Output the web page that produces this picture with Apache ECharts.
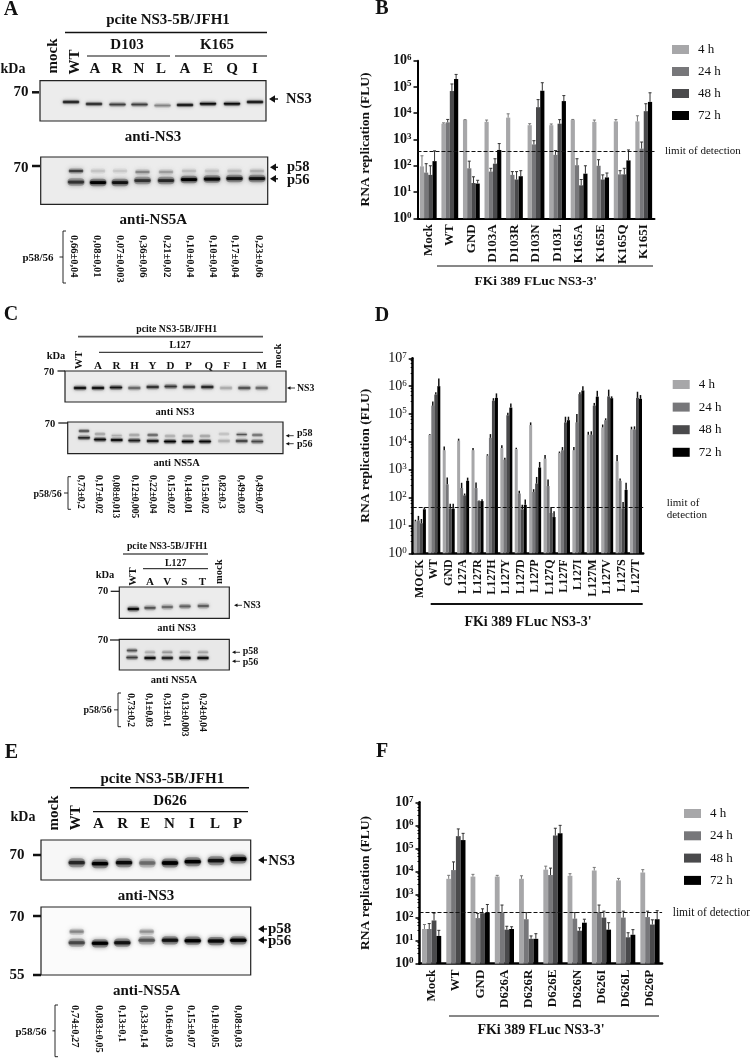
<!DOCTYPE html>
<html><head><meta charset="utf-8">
<style>html,body{margin:0;padding:0;background:#fff}#c{width:750px;height:1058px}</style>
<script src="https://cdn.jsdelivr.net/npm/echarts@6/dist/echarts.min.js"></script>
</head><body><div id="c"></div>
<script>
// ---------- chart data ----------
const timeNames = ['4 h','24 h','48 h','72 h'];
const catsB = ['Mock','WT','GND','D103A','D103R','D103N','D103L','K165A','K165E','K165Q','K165I'];
const b4  = [95,4000,5500,4700,6800,3500,3500,5500,4700,4900,4900];
const b24 = [55,4500,80,60,45,650,260,105,100,47,450];
const b48 = [45,70000,22,120,30,17000,4000,18,30,47,12000];
const b72 = [150,200000,21,400,40,72000,29000,50,36,160,27000];
const bE4  = [240,4300,5700,5500,9500,4000,3900,5800,5500,5700,8000];
const bE24 = [120,5800,150,80,60,900,380,185,170,65,800];
const bE48 = [100,130000,38,185,60,33000,5700,30,45,80,23000];
const bE72 = [370,300000,28,700,65,145000,47000,100,53,400,60000];
const limitB = 370;

const catsD = ['MOCK','WT','GND','L127A','L127R','L127H','L127Y','L127D','L127P','L127Q','L127F','L127I','L127M','L127V','L127S','L127T'];
const d4  = [14,18000,5000,11000,5000,3200,6000,5500,40000,2500,4000,5000,18000,33000,2000,28000];
const d24 = [15,200000,300,220,220,14000,2300,140,160,260,5000,50000,18000,60000,400,28000];
const d48 = [12,500000,40,120,75,300000,90000,38,320,28,50000,520000,200000,430000,40,380000];
const d72 = [38,1000000,40,400,75,380000,170000,55,1200,20,60000,700000,420000,370000,190,350000];
const dE4  = [16,19000,6800,13000,6000,3600,7500,6100,50000,3400,4500,6500,23000,42000,3400,35000];
const dE24 = [22,280000,530,340,350,19000,2700,175,200,450,6500,100000,24000,70000,480,36000];
const dE48 = [17,600000,60,140,78,370000,110000,55,550,45,80000,600000,250000,750000,70,630000];
const dE72 = [45,1900000,60,520,88,550000,240000,85,1900,32,80000,1000000,680000,430000,340,480000];
const limitD = 45;

const catsF = ['Mock','WT','GND','D626A','D626R','D626E','D626N','D626I','D626L','D626P'];
const f4  = [32,4800,6000,6000,4800,12000,6500,11000,4100,9000];
const f24 = [32,11500,95,165,85,7000,90,170,100,105];
const f48 = [75,340000,155,30,12,360000,27,100,14,50];
const f72 = [16,230000,160,32,12,450000,60,30,18,85];
const fE4  = [50,6800,7500,6800,6500,17000,8000,15000,5000,12000];
const fE24 = [55,26000,150,350,165,14000,165,350,190,190];
const fE48 = [155,700000,240,42,16,750000,36,190,22,80];
const fE72 = [28,450000,370,40,20,1000000,85,60,30,200];
const limitF = 165;

// ---------- blot labels and band intensities ----------
const lanesA = ['A','R','N','L','A','E','Q','I'];
const ratioA = ['0,66±0,04','0,08±0,01','0,07±0,003','0,36±0,06','0,21±0,02','0,10±0,04','0,10±0,04','0,17±0,04','0,23±0,06'];
const aNS3 = [.85,.8,.7,.7,.4,.9,.95,.95,.9];
const aP56 = [.75,1,.9,.75,.8,1,.95,.9,.9];
const aP58 = [.7,.12,.1,.4,.3,.15,.12,.15,.2];

const lanesC = ['A','R','H','Y','D','P','Q','F','I','M'];
const ratioC = ['0,73±0,2','0,17±0,02','0,08±0,013','0,12±0,005','0,22±0,04','0,15±0,02','0,14±0,01','0,15±0,02','0,82±0,3','0,49±0,03','0,49±0,07'];
const cNS3 = [.95,.95,.9,.55,.8,.75,.75,.85,.25,.65,.55];
const cP56 = [.8,.95,.95,.85,.9,1,1,.95,.2,.7,.65];
const cP58 = [.7,.3,.2,.3,.6,.25,.3,.3,.15,.6,.55];

const lanesC2 = ['A','V','S','T'];
const ratioC2 = ['0,73±0,2','0,1±0,03','0,31±0,1','0,13±0,003','0,24±0,04'];
const c2NS3 = [.95,.6,.5,.55,.55];
const c2P56 = [.7,.95,.85,.95,.95];
const c2P58 = [.6,.2,.3,.2,.25];

const lanesE = ['A','R','E','N','I','L','P'];
const ratioE = ['0,74±0,27','0,083±0,05','0,13±0,1','0,33±0,14','0,16±0,03','0,15±0,07','0,10±0,05','0,08±0,03'];
const eNS3 = [.8,1,.95,.5,1,1,.9,1];
const eP56 = [.65,1,.9,.6,.9,1,.95,1];
const eP58 = [.4,0,0,.35,0,0,0,0];

// ---------- drawing ----------
const FF = '"Liberation Serif"';
const colors = ['#a7a7a9','#77777a','#4a4a4c','#000000'];
const G = [];
function T(s,x,y,size,o){o=o||{};G.push({type:'text',x:x,y:y,rotation:o.rot||0,z:20,silent:true,style:{text:s,fill:o.fill||'#111',
  font:(o.weight||'bold')+' '+size+'px '+FF,align:o.align||'center',verticalAlign:o.va||'middle'}});}
function L(x1,y1,x2,y2,w,c){G.push({type:'line',z:19,silent:true,shape:{x1,y1,x2,y2},style:{stroke:c||'#111',lineWidth:w||1}});}
function box(x,y,w,h,fill,lw){G.push({type:'rect',z:5,silent:true,shape:{x,y,width:w,height:h},style:{fill:fill,stroke:'#222',lineWidth:lw||1.2}});}
function band(cx,cy,w,h,k,blur){if(k<=0)return;
  const halo=Math.round(120+60*(1-k)),core=Math.round(170*(1-k));
  const a='rgb('+halo+','+halo+','+halo+')',b='rgb('+core+','+core+','+core+')';
  const oh=h*1.5,ch=h*.55;
  G.push({type:'rect',z:8,silent:true,shape:{x:cx-w/2+1,y:cy-oh/2,width:w-2,height:oh,r:oh/2},
   style:{fill:a,opacity:Math.min(.8,k*.8+.12),shadowBlur:blur*1.6,shadowColor:a}});
  G.push({type:'rect',z:9,silent:true,shape:{x:cx-w/2+1.5,y:cy-ch/2,width:w-3,height:ch,r:ch/2},
   style:{fill:b,opacity:Math.min(1,k+.05),shadowBlur:blur*.7,shadowColor:b}});}
function bands(xs,ys,vals,w,h,blur){vals.forEach((k,i)=>band(xs[i],ys[i],w,h,k,blur));}
function bigArrow(x,y,len){G.push({type:'polygon',z:19,silent:true,shape:{points:[[x,y],[x+6,y-3.8],[x+6,y+3.8]]},style:{fill:'#111'}});L(x+5,y,x+(len||8),y,1.4);}
function thinArrow(x,y,len){G.push({type:'polygon',z:19,silent:true,shape:{points:[[x,y],[x+3.5,y-1.8],[x+3.5,y+1.8]]},style:{fill:'#111'}});L(x+3,y,x+len,y,.8);}
function bracket(x,y1,y2,tx){L(x,y1,x,y2,.9);L(x,y1,x+3,y1,.9);L(x,y2,x+3,y2,.9);L(tx,(y1+y2)/2,x,(y1+y2)/2,.9);}
function rotLabel(s,x,y,size){T(s,x,y,size,{rot:Math.PI/2});}
function ratios(list,xs,y,size){list.forEach((s,i)=>T(s,xs[i],y,size,{rot:-Math.PI/2,align:'left'}));}

// Panel A
T('A',11,10,20);
T('pcite NS3-5B/JFH1',168,20,15);L(65,32.5,267,32.5,1.5);
T('D103',127,45.5,15);T('K165',217,45.5,15);L(87,56,170,56,1.2);L(175,56,267,56,1.2);
rotLabel('mock',53,56,15);rotLabel('WT',75,62,15);
lanesA.forEach((s,i)=>T(s,[95,117,139,161,185,208,232,255][i],69.5,15));
T('kDa',13,69,14);
box(40,80.7,226,40.3,'#ececec');
bands([71,94,117.5,139.5,162.5,185,208,232,255],[102,104,104.5,104.5,105.5,105,103.8,103.8,102],aNS3,19,2.8,2);
T('70',21,92,15);L(32,92.3,39,92.3,2.5);
bigArrow(269,99,9);T('NS3',286,99,14.5,{align:'left'});
T('anti-NS3',153,136.7,15);
box(40.7,157,227,47.3,'#ececec');
const xA2=[76,98,120,142.5,166,189,212,234.5,257];
bands(xA2,[182,182.5,182.5,180.5,180.5,179.5,179,178.5,178.5],aP56,19,5,2.5);
bands(xA2,[171,171,171,172,172,171,171,171,171],aP58,17,3.2,2.5);
T('70',21,168,15);L(32,166,40,166,2.5);
bigArrow(270,167.3,8);bigArrow(270,178.8,8);
T('p58',287,167,14.5,{align:'left'});T('p56',287,180,14.5,{align:'left'});
T('anti-NS5A',153.3,220,15);
T('p58/56',38,258,11);bracket(63,231,283,59.5);
ratios(ratioA,[74,96.5,120,142.5,166.5,189.5,213,235,259],235,10.5);

// Panel C
T('C',11,315,20);
T('pcite NS3-5B/JFH1',176.7,329.3,9.8);L(78,336.7,263,336.7,1.8,'#555');
T('L127',180,345.7,9.8);L(99,352.3,263,352.3,1);
rotLabel('WT',79,360,11);rotLabel('mock',278,356,10.5);
lanesC.forEach((s,i)=>T(s,[98,116.5,134.5,152.5,170.5,188.7,208.7,226.7,244.3,261.7][i],365.7,11));
T('kDa',56,356,10.5);
box(65,371,221,31,'#ececec');
bands([80,98,116,134.3,152.7,170.7,189,207.3,226,244.3,261.7],[388,388,387.5,388,387,386.5,387,387,388,388,388],cNS3,15,3,2);
T('70',49,372.7,10.5);L(57.5,371,65,371,1.2);
thinArrow(287,388,8);T('NS3',297,388,9.8,{align:'left'});
T('anti NS3',175,412.7,10.5);
box(67.7,422,215.3,31.7,'#e8e8e8');
const xC2=[84,100,116.7,134.3,152.7,170,187.7,205,224,241.7,257.3];
bands(xC2,[437.7,439.5,440,440.5,441,441.5,441.5,441.5,441,441,441.5],cP56,14.5,3,1.5);
bands(xC2,[431,434,435.5,435,435,436,436,436,434,434.5,435],cP58,13,2.2,1.5);
T('70',50,424,10.5);L(58.3,423,67.7,423,1.2);
thinArrow(285.7,435.7,8);thinArrow(285.7,443.7,8);
T('p58',297,433,10,{align:'left'});T('p56',297,444,10,{align:'left'});
T('anti NS5A',176.7,463.3,10.5);
T('p58/56',47.7,494,10);bracket(68,476.7,509.3,64);
ratios(ratioC,[80.3,98.3,115.7,134.3,152,170,187.3,204,221.3,240.7,258.3],475,9.5);

// Panel C, second blot
T('pcite NS3-5B/JFH1',167.3,546.7,9.8);L(123,554,208,554,1.5,'#555');
T('L127',175.7,563.3,9.8);L(143,568.7,208,568.7,1);
rotLabel('WT',133,576.7,11);rotLabel('mock',219,571.7,10.5);
lanesC2.forEach((s,i)=>T(s,[150,167.3,184.3,202.3][i],582,11));
T('kDa',105,575,10.5);
box(119.3,587,110,31.3,'#ececec');
bands([133.3,150,167.3,185,203.3],[609,607.8,607,606.3,606],c2NS3,14,3.2,2);
T('70',103,591.7,10.5);L(110.7,591.3,119.3,591.3,1.2);
thinArrow(234,605.3,8);T('NS3',243.3,605.3,9.8,{align:'left'});
T('anti NS3',176.7,628.3,10.5);
box(119.3,639.3,110,30.7,'#e8e8e8');
const xC22=[132,150,167.3,185,203];
bands(xC22,[657.5,658,658,658,658],c2P56,14,3,1.5);
bands(xC22,[650.5,652.3,652.3,652.3,652.3],c2P58,13,2.6,1.5);
T('70',103,640,10.5);L(110,640,119.3,640,1.2);
thinArrow(232,652.3,8);thinArrow(232,661.3,8);
T('p58',242.7,651.5,10,{align:'left'});T('p56',242.7,662.5,10,{align:'left'});
T('anti NS5A',174,680,10.5);
T('p58/56',97.7,710.3,10);bracket(118,693,726.7,114);
ratios(ratioC2,[130.7,148.7,166.7,184.3,202],693.3,9.5);

// Panel E
T('E',11.5,753,20);
T('pcite NS3-5B/JFH1',162.3,779,15);L(70,787.7,249,787.7,1.5);
T('D626',170,801,15);L(93,811.7,248,811.7,1.2);
rotLabel('mock',54,813,15);rotLabel('WT',76,817.7,15);
lanesE.forEach((s,i)=>T(s,[98.3,122.7,145.3,169.3,192,215,237.7][i],824,15));
T('kDa',23,817,14);
box(41,840,209.7,40,'#f7f7f7');
bands([76.7,100,124,147.3,170,192.7,216,238.3],[862.7,863.7,862.7,863,863,861.7,860.7,859],eNS3,19,6,2.5);
T('70',17,855,15);L(33,855,41,855,2.5);
bigArrow(258,860,9);T('NS3',268.3,861,15,{align:'left'});
T('anti-NS3',146,896,15);
box(41,907,209.7,68,'#fbfbfb');
const xE2=[76.7,100,122.3,146.7,170,192.7,216,238.3];
bands(xE2,[942.7,943.3,942.7,940.3,940.3,940.7,941,940.3],eP56,19,5.5,2.5);
bands(xE2,[931.7,931.7,931.7,931.7,0,0,0,0],eP58,17,4,2.5);
T('70',17,916.7,15);L(33,916,41,916,2.5);T('55',17,975,15);L(33,975,41,975,2.5);
bigArrow(258,929,9);bigArrow(258,940,9);
T('p58',268,929,15,{align:'left'});T('p56',268,941,15,{align:'left'});
T('anti-NS5A',146.7,991,15);
T('p58/56',31,1031.7,11);bracket(55,1005,1056.7,52.5);
ratios(ratioE,[75,98.3,121.7,143.3,168.3,190.7,214.3,237.3],1005,10.5);

// Bar charts: annotations
T('B',382,9,20);T('D',382,315.5,20);T('F',382,751.7,20);
L(437,266,653,266,1);T("FKi 389 FLuc NS3-3'",535.7,281.7,13.5);
L(430.7,604,642.7,604,2);T("FKi 389 FLuc NS3-3'",528,622.7,14);
L(449,1016,659,1016,1);T("FKi 389 FLuc NS3-3'",541,1030.7,14);
T('limit of detection',665,151,11,{weight:'normal',align:'left'});
T('limit of',666.7,503,11,{weight:'normal',align:'left'});
T('detection',666.7,515,11,{weight:'normal',align:'left'});
T('limit of detection',672.7,913,11.5,{weight:'normal',align:'left'});

const sup=v=>'{b|10}{s|'+Math.round(Math.log10(v))+'}';
function makeAxes(idx,cats,maxV,weight,labelSize,axisW,minor,nameGap){
  return {
    x:{type:'category',gridIndex:idx,data:cats,
      axisLine:{lineStyle:{color:'#000',width:axisW}},
      axisTick:{alignWithLabel:true,length:3.5,lineStyle:{color:'#000',width:1.5}},
      axisLabel:{rotate:90,interval:0,margin:6,color:'#111',fontFamily:FF,fontWeight:'bold',fontSize:labelSize}},
    y:{type:'log',logBase:10,gridIndex:idx,min:1,max:maxV,
      name:'RNA replication (FLU)',nameLocation:'middle',nameGap:nameGap,
      nameTextStyle:{fontFamily:FF,fontWeight:'bold',fontSize:13.5,color:'#111'},
      axisLine:{show:true,onZero:false,lineStyle:{color:'#000',width:axisW}},
      axisTick:{show:true,length:4,lineStyle:{color:'#000',width:1.5}},
      minorTick:{show:minor,splitNumber:5,length:2,lineStyle:{color:'#000',width:1}},
      splitLine:{show:false},
      axisLabel:{margin:6,formatter:sup,rich:{
        b:{fontFamily:FF,fontWeight:weight,fontSize:14,color:'#111'},
        s:{fontFamily:FF,fontWeight:weight,fontSize:9,color:'#111',verticalAlign:'bottom',padding:[0,0,6,0]}}}}
  };
}
function makeSeries(idx,cats,vals,errs,barW,limit,thick){
  const out=[];
  vals.forEach((arr,k)=>{
    const s={type:'bar',name:timeNames[k],xAxisIndex:idx,yAxisIndex:idx,data:arr,barWidth:barW,barGap:'0%',
      itemStyle:{color:colors[k]},silent:true,z:2};
    if(k===0)s.markLine={silent:true,symbol:'none',label:{show:false},animation:false,z:6,
      lineStyle:{type:'dashed',color:'#111',width:1},data:[{yAxis:limit}]};
    out.push(s);
    out.push({type:'custom',name:'err'+idx+'_'+k,xAxisIndex:idx,yAxisIndex:idx,z:3,silent:true,
      encode:{x:0,y:[1,2]},
      data:cats.map((c,i)=>[c,arr[i],errs[k][i]]),
      renderItem:(p,api)=>{
        const off=(k-1.5)*barW;
        const a=api.coord([api.value(0),api.value(1)]),b=api.coord([api.value(0),api.value(2)]);
        const x=a[0]+off,st={stroke:thick?'#111':(k===0?'#777':'#333'),lineWidth:thick?1.5:1};
        const kids=[{type:'line',shape:{x1:x,y1:a[1],x2:x,y2:b[1]},style:st}];
        if(!thick)kids.push({type:'line',shape:{x1:x-1.5,y1:b[1],x2:x+1.5,y2:b[1]},style:st});
        return {type:'group',children:kids};
      }});
  });
  return out;
}
const aB=makeAxes(0,catsB,1e6,'bold',13,2,false,44.5);
const aD=makeAxes(1,catsD,1e7,'normal',12,2.5,true,39.7);
const aF=makeAxes(2,catsF,1e7,'bold',13,2.5,true,46.5);
const legend=(left,top,gap)=>({left:left,top:top,orient:'vertical',data:timeNames,icon:'rect',itemWidth:17,itemHeight:9,itemGap:gap,
  selectedMode:false,textStyle:{fontFamily:FF,fontSize:13,color:'#111',padding:[0,0,0,4]}});
const option={
  animation:false,backgroundColor:'#fff',
  grid:[
    {left:417.5,top:60.7,width:237,height:157.6},
    {left:412.7,top:358.3,width:230.5,height:195},
    {left:419.5,top:802.3,width:242.6,height:161.4}
  ],
  xAxis:[aB.x,aD.x,aF.x],yAxis:[aB.y,aD.y,aF.y],
  legend:[legend(667,38,9),legend(667.7,373,9.6),legend(679,802,9.3)],
  series:[].concat(
    makeSeries(0,catsB,[b4,b24,b48,b72],[bE4,bE24,bE48,bE72],4.2,limitB,false),
    makeSeries(1,catsD,[d4,d24,d48,d72],[dE4,dE24,dE48,dE72],3,limitD,true),
    makeSeries(2,catsF,[f4,f24,f48,f72],[fE4,fE24,fE48,fE72],4.8,limitF,false)
  ),
  graphic:{elements:G}
};
echarts.init(document.getElementById('c'),null,{renderer:'canvas'}).setOption(option);
</script></body></html>
